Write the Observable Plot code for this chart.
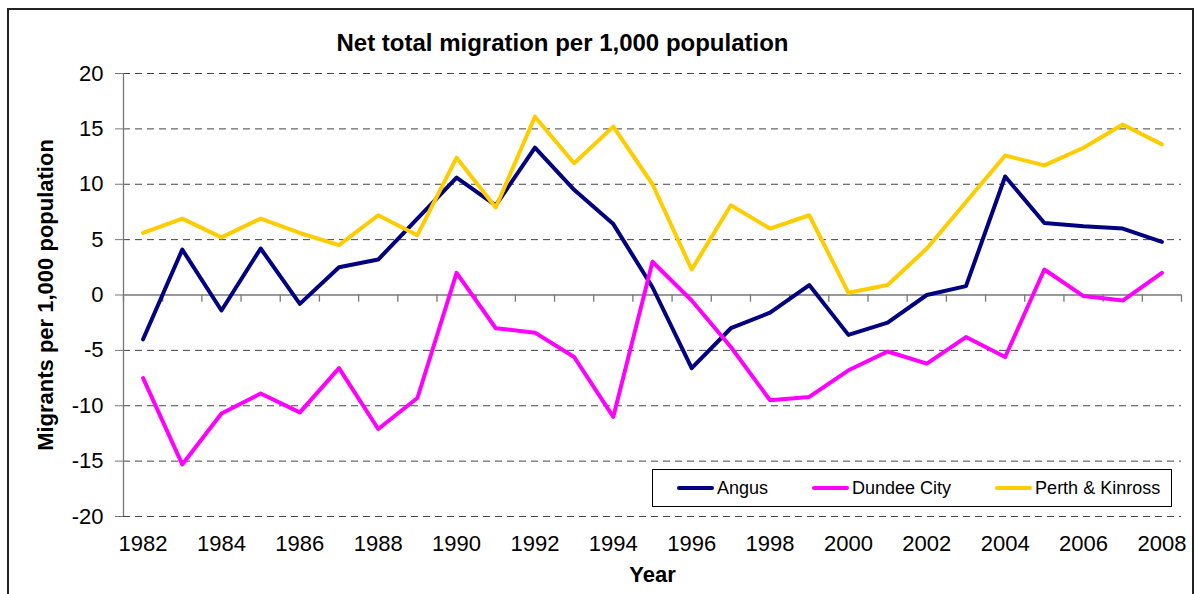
<!DOCTYPE html>
<html>
<head>
<meta charset="utf-8">
<script src="https://cdn.jsdelivr.net/npm/d3@7"></script>
<script src="https://cdn.jsdelivr.net/npm/@observablehq/plot@0.6"></script>
<style>
  html, body { margin: 0; padding: 0; background: #fff; }
  #wrap { position: relative; width: 1196px; height: 594px; overflow: hidden; font-family: "Liberation Sans", Arial, sans-serif; }
  #frame { position: absolute; left: 7px; top: 8px; width: 1187px; height: 620px; border: 2px solid #222; box-sizing: border-box; pointer-events: none; }
  #legend { position: absolute; left: 652px; top: 469px; width: 520px; height: 38px; border: 1px solid #000; box-sizing: border-box; background: #fff; display: flex; align-items: center; padding-left: 24px; font-size: 18px; color: #000; white-space: nowrap; }
  #legend .item { display: flex; align-items: center; margin-right: 44px; flex-shrink: 0; }
  #legend .sw { display: inline-block; width: 37px; height: 4px; border-radius: 2px; margin-right: 3px; }
</style>
</head>
<body>
<div id="wrap"><div id="frame"></div></div>
<script>
const years = [1982, 1983, 1984, 1985, 1986, 1987, 1988, 1989, 1990, 1991, 1992, 1993, 1994, 1995, 1996, 1997, 1998, 1999, 2000, 2001, 2002, 2003, 2004, 2005, 2006, 2007, 2008];
const seriesNames = ["Angus", "Dundee City", "Perth & Kinross"];
const seriesColors = ["#000080", "#FF00FF", "#FFCC00"];
const angus  = [-4.0, 4.1, -1.4, 4.2, -0.8, 2.5, 3.2, 6.9, 10.6, 8.1, 13.3, 9.5, 6.4, 0.7, -6.6, -3.0, -1.6, 0.9, -3.6, -2.5, 0.0, 0.8, 10.7, 6.5, 6.2, 6.0, 4.8];
const dundee = [-7.5, -15.3, -10.7, -8.9, -10.6, -6.6, -12.1, -9.3, 2.0, -3.0, -3.4, -5.6, -11.0, 3.0, -0.5, -4.7, -9.5, -9.2, -6.8, -5.1, -6.2, -3.8, -5.6, 2.3, -0.1, -0.5, 2.0];
const perth  = [5.6, 6.9, 5.2, 6.9, 5.6, 4.5, 7.2, 5.4, 12.4, 7.9, 16.1, 11.9, 15.2, 10.0, 2.3, 8.1, 6.0, 7.2, 0.2, 0.9, 4.2, 8.4, 12.6, 11.7, 13.3, 15.4, 13.6];
const yTicks = [-20, -15, -10, -5, 0, 5, 10, 15, 20];
const xTickYears = [1982, 1984, 1986, 1988, 1990, 1992, 1994, 1996, 1998, 2000, 2002, 2004, 2006, 2008];
const titleText = "Net total migration per 1,000 population";
const yLabelText = "Migrants per 1,000 population";
const xLabelText = "Year";

const seriesValues = [angus, dundee, perth];
const rows = [];
seriesNames.forEach((name, i) => {
  years.forEach((yr, j) => rows.push({series: name, year: yr, value: seriesValues[i][j]}));
});
const xMin = years[0] - 0.5, xMax = years[years.length - 1] + 0.5;
const boundaries = years.map(y => y - 0.5).concat([xMax]);
const gridTicks = yTicks.filter(t => t !== 0);

const font = '"Liberation Sans", Arial, sans-serif';
const chart = Plot.plot({
  width: 1196,
  height: 594,
  marginLeft: 123,
  marginRight: 15,
  marginTop: 73,
  marginBottom: 78,
  x: {domain: [xMin, xMax]},
  y: {domain: [yTicks[0], yTicks[yTicks.length - 1]]},
  color: {domain: seriesNames, range: seriesColors},
  style: {fontFamily: font, fontSize: "22px", color: "#000", background: "transparent", overflow: "visible"},
  marks: [
    Plot.gridY(gridTicks, {stroke: "#444", strokeOpacity: 1, strokeWidth: 1, strokeDasharray: "7,5"}),
    Plot.ruleX([xMin], {y1: yTicks[0], y2: yTicks[yTicks.length - 1], stroke: "#777", strokeWidth: 1.3}),
    Plot.ruleY([0], {stroke: "#777", strokeWidth: 1.3}),
    Plot.ruleX(boundaries, {y1: 0, y2: -0.65, stroke: "#777", strokeWidth: 1.3}),
    Plot.axisY({ticks: yTicks, tickFormat: d => String(d), tickSize: 8, tickPadding: 12, label: null, stroke: "#777", fontSize: 22}),
    Plot.axisX({ticks: xTickYears, tickFormat: d => String(d), tickSize: 0, tickPadding: 19, label: null, fontSize: 22}),
    Plot.line(rows, {x: "year", y: "value", z: "series", stroke: "series", strokeWidth: 4, strokeLinejoin: "round", strokeLinecap: "round"}),
    Plot.text([titleText], {frameAnchor: "top", lineAnchor: "middle", dx: -90, dy: -30, fontWeight: "bold", fontSize: 24}),
    Plot.text([yLabelText], {frameAnchor: "left", textAnchor: "middle", lineAnchor: "middle", rotate: -90, dx: -78, fontWeight: "bold", fontSize: 22}),
    Plot.text([xLabelText], {frameAnchor: "bottom", lineAnchor: "middle", dy: 58, fontWeight: "bold", fontSize: 22})
  ]
});
const wrap = document.getElementById("wrap");
chart.style.position = "absolute";
chart.style.left = "0px";
chart.style.top = "0px";
wrap.insertBefore(chart, wrap.firstChild);

const legend = document.createElement("div");
legend.id = "legend";
seriesNames.forEach((name, i) => {
  const item = document.createElement("div");
  item.className = "item";
  const sw = document.createElement("span");
  sw.className = "sw";
  sw.style.background = seriesColors[i];
  const label = document.createElement("span");
  label.textContent = name;
  item.appendChild(sw);
  item.appendChild(label);
  legend.appendChild(item);
});
wrap.appendChild(legend);
</script>
</body>
</html>
